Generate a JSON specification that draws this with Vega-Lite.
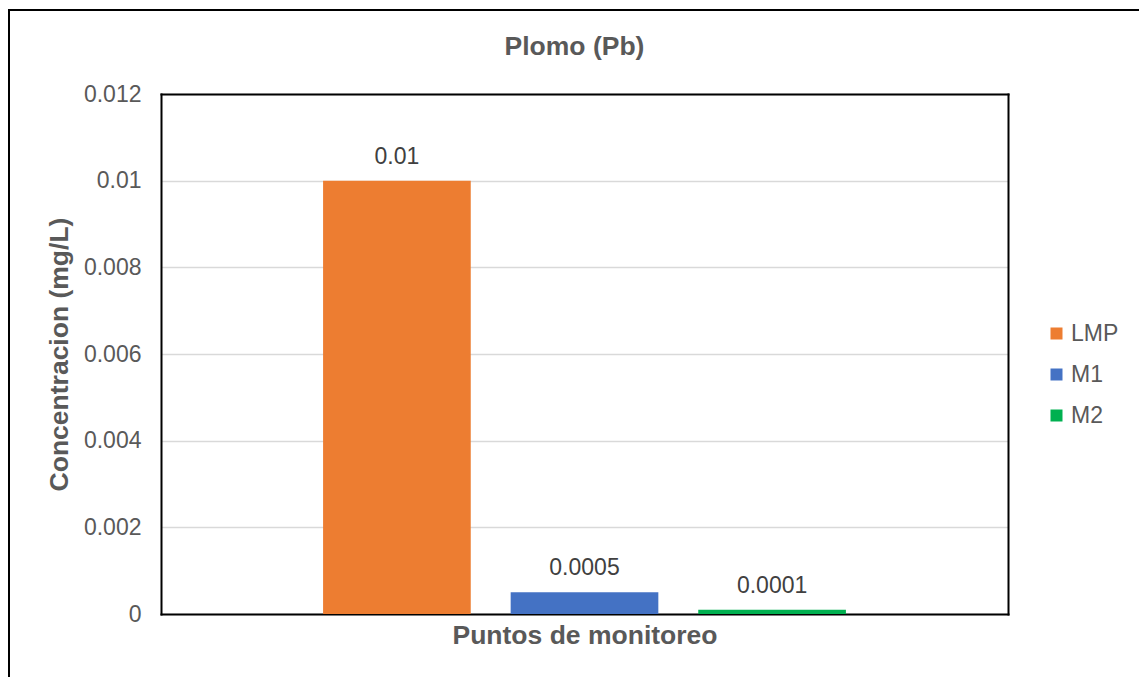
{
  "$schema": "https://vega.github.io/schema/vega-lite/v6.json",
  "autosize": {"type": "none"},
  "padding": {"left": 9, "top": 10, "right": 0, "bottom": 0},
  "width": 1131,
  "height": 680,
  "background": "white",
  "title": {
    "text": "Plomo (Pb)",
    "anchor": "middle",
    "frame": "group",
    "offset": -50,
    "font": "Liberation Sans",
    "fontSize": 26.5,
    "fontWeight": "bold",
    "color": "#595959"
  },
  "data": {
    "values": [
      {"serie": "LMP", "concentracion": 0.01},
      {"serie": "M1", "concentracion": 0.0005},
      {"serie": "M2", "concentracion": 0.0001}
    ]
  },
  "layer": [
    {
      "mark": {"type": "bar"},
      "encoding": {
        "x": {
          "field": "serie",
          "type": "nominal",
          "sort": null,
          "scale": {"range": [152, 999], "paddingInner": 0.2128, "paddingOuter": 0.864},
          "axis": {
            "orient": "bottom",
            "offset": -76,
            "labels": false,
            "ticks": false,
            "grid": false,
            "domainColor": "#000000",
            "domainWidth": 2,
            "domainCap": "square",
            "title": "Puntos de monitoreo",
            "titleFont": "Liberation Sans",
            "titleFontSize": 26.5,
            "titleFontWeight": "bold",
            "titleColor": "#595959",
            "titlePadding": 8
          }
        },
        "y": {
          "field": "concentracion",
          "type": "quantitative",
          "scale": {"domain": [0, 0.012], "range": [604, 84], "nice": false, "zero": true},
          "axis": {
            "orient": "left",
            "offset": -152,
            "values": [0, 0.002, 0.004, 0.006, 0.008, 0.01, 0.012],
            "format": "~g",
            "ticks": false,
            "labelFont": "Liberation Sans",
            "labelFontSize": 23,
            "labelColor": "#595959",
            "labelPadding": 20,
            "grid": true,
            "gridColor": "#D9D9D9",
            "gridWidth": 1.5,
            "domainColor": "#000000",
            "domainWidth": 2,
            "domainCap": "square",
            "title": "Concentracion (mg/L)",
            "titleFont": "Liberation Sans",
            "titleFontSize": 26.5,
            "titleFontWeight": "bold",
            "titleColor": "#595959",
            "titlePadding": 10
          }
        },
        "color": {
          "field": "serie",
          "type": "nominal",
          "scale": {"domain": ["LMP", "M1", "M2"], "range": ["#ED7D31", "#4472C4", "#00B050"]},
          "legend": {
            "title": null,
            "orient": "none",
            "legendX": 1036,
            "legendY": 312,
            "symbolType": "square",
            "symbolSize": 144,
            "symbolStrokeWidth": 0,
            "labelFont": "Liberation Sans",
            "labelFontSize": 23,
            "labelColor": "#595959",
            "labelOffset": 3,
            "rowPadding": 17
          }
        }
      }
    },
    {
      "mark": {
        "type": "text",
        "dy": -24,
        "baseline": "middle",
        "align": "center",
        "font": "Liberation Sans",
        "fontSize": 23,
        "color": "#404040"
      },
      "encoding": {
        "x": {
          "field": "serie",
          "type": "nominal",
          "sort": null,
          "scale": {"range": [152, 999], "paddingInner": 0.2128, "paddingOuter": 0.864},
          "axis": {
            "orient": "top",
            "offset": -84,
            "labels": false,
            "ticks": false,
            "grid": false,
            "title": null,
            "domainColor": "#000000",
            "domainWidth": 2,
            "domainCap": "square"
          }
        },
        "y": {
          "field": "concentracion",
          "type": "quantitative",
          "scale": {"domain": [0, 0.012], "range": [604, 84], "nice": false, "zero": true},
          "axis": {
            "orient": "right",
            "offset": -132,
            "labels": false,
            "ticks": false,
            "grid": false,
            "title": null,
            "domainColor": "#000000",
            "domainWidth": 2,
            "domainCap": "square"
          }
        },
        "text": {"field": "concentracion", "type": "quantitative", "format": "~g"}
      }
    }
  ],
  "resolve": {"axis": {"x": "independent", "y": "independent"}},
  "config": {
    "view": {"stroke": "#000000", "strokeWidth": 2, "fill": "white"}
  }
}
